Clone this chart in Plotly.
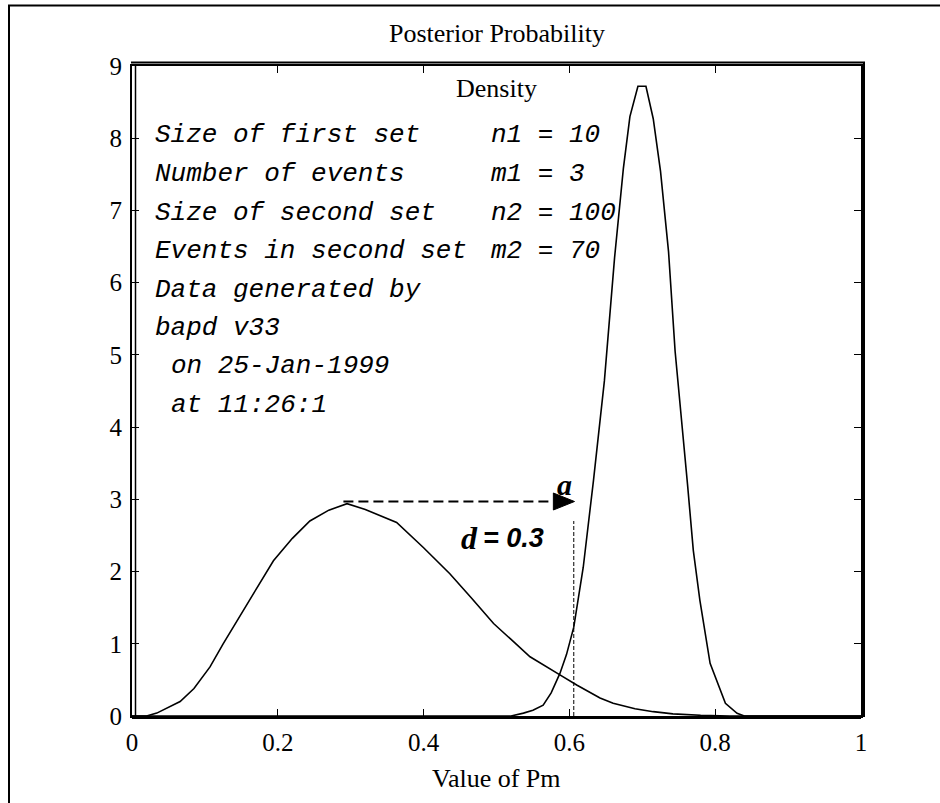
import plotly.graph_objects as go

# ---- data ----
set1_x = [0, 0.02, 0.034, 0.066, 0.085, 0.107, 0.125, 0.144, 0.165, 0.194, 0.22, 0.244,
          0.27, 0.295, 0.32, 0.34, 0.363, 0.40, 0.436, 0.465, 0.496, 0.52, 0.546, 0.587,
          0.61, 0.642, 0.66, 0.69, 0.715, 0.742, 0.78, 0.82, 1.0]
set1_y = [0, 0.0, 0.04, 0.20, 0.38, 0.68, 1.00, 1.32, 1.68, 2.15, 2.46, 2.70,
          2.85, 2.94, 2.86, 2.78, 2.68, 2.33, 1.97, 1.64, 1.28, 1.06, 0.82, 0.57,
          0.43, 0.25, 0.175, 0.10, 0.06, 0.03, 0.01, 0, 0]

set2_x = [0, 0.52, 0.537, 0.55, 0.564, 0.575, 0.587, 0.596, 0.606, 0.619, 0.633, 0.642,
          0.648, 0.662, 0.674, 0.683, 0.694, 0.705, 0.715, 0.725, 0.736, 0.745, 0.754,
          0.762, 0.770, 0.779, 0.793, 0.814, 0.83, 0.84, 1.0]
set2_y = [0, 0, 0.04, 0.08, 0.15, 0.32, 0.59, 0.85, 1.23, 2.06, 3.26, 4.13,
          4.64, 6.35, 7.58, 8.30, 8.72, 8.72, 8.27, 7.54, 6.43, 5.05, 4.13,
          3.21, 2.29, 1.60, 0.73, 0.175, 0.037, 0, 0]

x_ticks = [0, 0.2, 0.4, 0.6, 0.8, 1]
x_tick_labels = ["0", "0.2", "0.4", "0.6", "0.8", "1"]
y_ticks = [0, 1, 2, 3, 4, 5, 6, 7, 8, 9]
y_tick_labels = [str(v) for v in y_ticks]

info_labels = ["Size of first set", "Number of events", "Size of second set",
               "Events in second set", "Data generated by", "bapd v33",
               " on 25-Jan-1999", " at 11:26:1"]
info_values = ["n1 = 10", "m1 = 3", "n2 = 100", "m2 = 70", "", "", "", ""]
info_y = [8.05, 7.51, 6.97, 6.44, 5.90, 5.37, 4.84, 4.31]

arrow_x0, arrow_x1, arrow_y = 0.29, 0.607, 2.97
dline_x, dline_top = 0.606, 2.70

# ---- figure geometry (pixels) ----
W, H = 940, 803
L, R, T, B = 132, 861, 66, 716


def px(xp):
    return (xp - L) / (R - L)


def py(yp):
    return (B - yp) / (B - T)


SERIF = "Liberation Serif"
MONO = "Liberation Mono"

fig = go.Figure()
for xs, ys in [(set1_x, set1_y), (set2_x, set2_y)]:
    fig.add_trace(go.Scatter(x=xs, y=ys, mode="lines",
                             line=dict(color="black", width=1.6),
                             showlegend=False, hoverinfo="skip"))

shapes = []
# dashed arrow shaft
shapes.append(dict(type="line", xref="x", yref="y", x0=arrow_x0, x1=arrow_x1 - 0.03,
                   y0=arrow_y, y1=arrow_y, line=dict(color="black", width=2, dash="10px,5px")))
# arrow head
head_len = 0.029
head_half = 8.5 / ((B - T) / 9)
shapes.append(dict(type="path", xref="x", yref="y",
                   path=f"M {arrow_x1} {arrow_y} L {arrow_x1 - head_len} {arrow_y + head_half} "
                        f"L {arrow_x1 - head_len} {arrow_y - head_half} Z",
                   fillcolor="black", line=dict(color="black", width=1)))
# thin vertical dashed line
shapes.append(dict(type="line", xref="x", yref="y", x0=dline_x, x1=dline_x, y0=0, y1=dline_top,
                   line=dict(color="black", width=1, dash="4px,2px")))
# double frame
shapes.append(dict(type="line", xref="paper", yref="paper", x0=px(131), x1=px(865),
                   y0=py(62.5), y1=py(62.5), line=dict(color="black", width=2)))
shapes.append(dict(type="line", xref="paper", yref="paper", x0=px(864), x1=px(864),
                   y0=py(62.5), y1=py(717), line=dict(color="black", width=2)))
shapes.append(dict(type="line", xref="paper", yref="paper", x0=px(135.5), x1=px(135.5),
                   y0=py(66), y1=py(716), line=dict(color="black", width=1.5)))
shapes.append(dict(type="line", xref="paper", yref="paper", x0=px(132), x1=px(861),
                   y0=py(717.5), y1=py(717.5), line=dict(color="black", width=3)))
# outer page frame
shapes.append(dict(type="line", xref="paper", yref="paper", x0=px(8), x1=px(940),
                   y0=py(5.5), y1=py(5.5), line=dict(color="black", width=2)))
shapes.append(dict(type="line", xref="paper", yref="paper", x0=px(9), x1=px(9),
                   y0=py(5), y1=py(803), line=dict(color="black", width=2)))

ann = []
ann.append(dict(text="Posterior Probability", xref="paper", yref="paper", x=0.5, y=py(33),
                xanchor="center", yanchor="middle", showarrow=False,
                font=dict(family=SERIF, size=26, color="black")))
ann.append(dict(text="Density", xref="paper", yref="paper", x=0.5, y=py(88),
                xanchor="center", yanchor="middle", showarrow=False,
                font=dict(family=SERIF, size=26, color="black")))
for lab, val, yv in zip(info_labels, info_values, info_y):
    lab_s = lab.lstrip(" ")
    off = (len(lab) - len(lab_s)) * 16
    ann.append(dict(text=lab_s, xref="paper", yref="y", x=px(153 + off), y=yv,
                    xanchor="left", yanchor="middle", showarrow=False,
                    font=dict(family=MONO, size=26, color="black", style="italic")))
    if val:
        ann.append(dict(text=val, xref="paper", yref="y", x=px(489), y=yv,
                        xanchor="left", yanchor="middle", showarrow=False,
                        font=dict(family=MONO, size=26, color="black", style="italic")))
ann.append(dict(text="<b><i>a</i></b>", xref="paper", yref="paper", x=px(564), y=py(484),
                xanchor="center", yanchor="middle", showarrow=False,
                font=dict(family=SERIF, size=30, color="black")))
ann.append(dict(text="<b><i>d</i></b>", xref="paper", yref="paper", x=px(480), y=py(538),
                xanchor="right", yanchor="middle", showarrow=False,
                font=dict(family=SERIF, size=32, color="black")))
ann.append(dict(text="<b><i>= 0.3</i></b>", xref="paper", yref="paper", x=px(481), y=py(538),
                xanchor="left", yanchor="middle", showarrow=False,
                font=dict(family="Liberation Sans", size=27, color="black")))
ann.append(dict(text="Value of Pm", xref="paper", yref="paper", x=0.5, y=py(778),
                xanchor="center", yanchor="middle", showarrow=False,
                font=dict(family=SERIF, size=26, color="black")))

axis_common = dict(showgrid=False, zeroline=False, showline=True, linecolor="black",
                   linewidth=2, mirror="ticks", ticks="inside", ticklen=7, tickwidth=1,
                   tickcolor="black", tickfont=dict(family=SERIF, size=25, color="black"))

fig.update_layout(
    width=W, height=H, autosize=False,
    margin=dict(l=L, r=W - R, t=T, b=H - B, pad=0),
    paper_bgcolor="white", plot_bgcolor="white",
    xaxis=dict(range=[0, 1], tickvals=x_ticks, ticktext=x_tick_labels,
               ticklabelstandoff=3, **axis_common),
    yaxis=dict(range=[0, 9], tickvals=y_ticks, ticktext=y_tick_labels,
               ticklabelstandoff=3, **axis_common),
    shapes=shapes, annotations=ann, showlegend=False,
)

fig.write_html("out.html", config={"displayModeBar": False},
               post_script="document.body.style.margin='0';document.body.style.overflow='hidden';")
